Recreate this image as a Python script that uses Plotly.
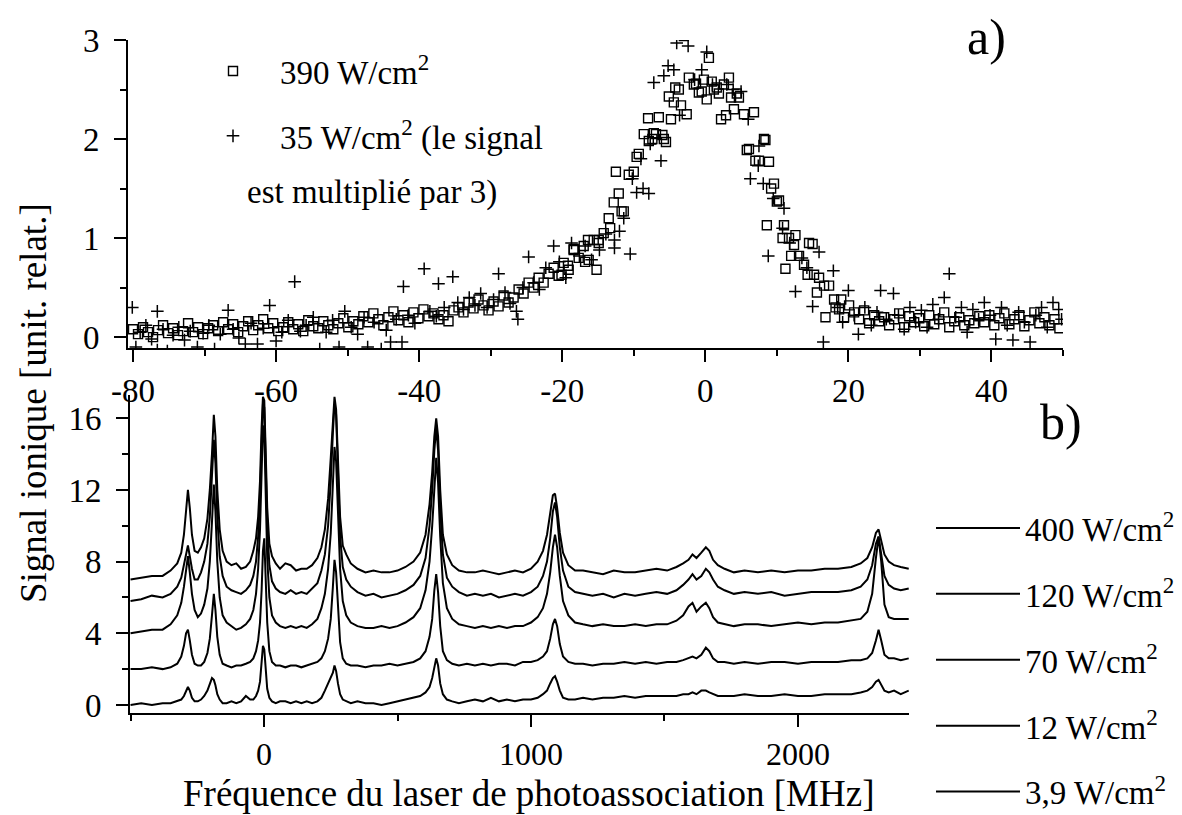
import plotly.graph_objects as go

# ---------------- Panel a) : scatter data ----------------
sq_x = [-80.0,-79.3,-78.6,-77.9,-77.2,-76.5,-75.8,-75.1,-74.4,-73.7,
        -73.0,-72.3,-71.6,-70.9,-70.2,-69.5,-68.8,-68.1,-67.4,-66.7,
        -66.0,-65.3,-64.6,-63.9,-63.2,-62.5,-61.8,-61.1,-60.4,-59.7,
        -59.0,-58.3,-57.6,-56.9,-56.2,-55.5,-54.8,-54.1,-53.4,-52.7,
        -52.0,-51.3,-50.6,-49.9,-49.2,-48.5,-47.8,-47.1,-46.4,-45.7,
        -45.0,-44.3,-43.6,-42.9,-42.2,-41.5,-40.8,-40.1,-39.4,-38.7,
        -38.0,-37.3,-36.6,-35.9,-35.2,-34.5,-33.8,-33.1,-32.4,-31.7,
        -31.0,-30.3,-29.6,-28.9,-28.2,-27.5,-26.8,-26.1,-25.4,-24.7,
        -24.0,-23.3,-22.6,-21.9,-21.2,-20.5,-19.8,-19.1,-18.4,-17.7,
        -17.0,-16.3,-15.6,-14.9,-14.2,-13.5,-12.8,-12.1,-11.4,-10.7,
        -10.0,-9.3,-8.6,-7.9,-7.2,-6.5,-5.8,-5.1,-4.4,-3.7,
        -3.0,-2.3,-1.6,-0.9,-0.2,0.5,1.2,1.9,2.6,3.3,
        4.0,4.7,5.4,6.1,6.8,7.5,8.2,8.9,9.6,10.3,
        11.0,11.7,12.4,13.1,13.8,14.5,15.2,15.9,16.6,17.3,
        18.0,18.7,19.4,20.1,20.8,21.5,22.2,22.9,23.6,24.3,
        25.0,25.7,26.4,27.1,27.8,28.5,29.2,29.9,30.6,31.3,
        32.0,32.7,33.4,34.1,34.8,35.5,36.2,36.9,37.6,38.3,
        39.0,39.7,40.4,41.1,41.8,42.5,43.2,43.9,44.6,45.3,
        46.0,46.7,47.4,48.1,48.8,49.5]
sq_y = [0.08,0.03,0.10,0.05,0.00,0.07,0.12,0.04,0.09,0.02,
        0.06,0.14,0.05,0.10,0.03,0.09,0.12,0.06,0.15,0.08,
        0.13,0.05,0.11,0.16,0.07,0.12,0.18,0.09,0.14,0.06,
        0.10,0.15,0.08,0.13,0.06,0.17,0.11,0.09,0.16,0.12,
        0.08,0.14,0.19,0.10,0.16,0.13,0.21,0.15,0.24,0.18,
        0.12,0.20,0.26,0.17,0.22,0.15,0.25,0.19,0.28,0.21,
        0.24,0.18,0.22,0.16,0.27,0.30,0.25,0.35,0.29,0.38,
        0.32,0.27,0.36,0.31,0.42,0.35,0.40,0.48,0.44,0.55,
        0.50,0.60,0.55,0.64,0.70,0.62,0.75,0.68,0.88,0.80,
        0.92,0.78,0.98,0.95,1.05,1.20,1.36,1.45,1.27,1.64,
        1.67,1.85,2.05,1.98,2.06,2.22,2.00,2.43,2.37,2.50,
        3.04,2.62,2.55,2.47,2.60,2.82,2.50,2.46,2.55,2.62,
        2.30,2.42,2.25,1.90,2.27,1.78,2.00,1.77,1.55,1.38,
        1.13,1.00,0.93,0.82,0.73,0.95,0.63,0.60,0.52,0.52,
        0.38,0.28,0.20,0.32,0.25,0.18,0.27,0.14,0.22,0.16,
        0.20,0.12,0.18,0.24,0.10,0.21,0.15,0.19,0.11,0.22,
        0.13,0.18,0.25,0.10,0.16,0.20,0.12,0.17,0.14,0.21,
        0.15,0.22,0.12,0.19,0.24,0.13,0.18,0.22,0.11,0.17,
        0.25,0.14,0.20,0.12,0.18,0.09]
sq_extra_x = [-12.5,-11.7,-13.3,-9.6,-8.0,-7.4,-6.9,-6.0,-5.5,-4.8,
              -4.2,-3.4,-2.6,-1.3,-0.5,0.2,0.9,1.6,2.2,2.9,
              3.6,4.4,5.8,7.0,8.4,9.2,10.0,8.6,10.8,12.6,
              12.0,11.2,15.0,14.3,15.6,16.8,19.0,18.2,-16.4,-18.4,
              -19.2,-20.1,-16.8,-15.2,-14.9]
sq_extra_y = [1.67,1.27,1.10,1.82,2.21,2.00,2.05,2.04,1.97,2.20,
              2.52,2.34,2.25,2.56,2.48,2.40,2.58,2.52,2.20,2.24,
              2.42,2.46,1.89,1.78,1.99,1.50,1.37,1.13,1.00,1.03,
              0.82,0.69,0.94,0.63,0.45,0.20,0.38,0.30,0.98,0.89,
              0.72,0.63,0.76,0.68,0.98]

pl_x = [-80.1,-79.6,-79.0,-78.2,-77.4,-76.6,-76.6,-75.8,-75.2,-74.4,
        -73.6,-72.8,-72.0,-71.0,-70.2,-69.4,-68.6,-67.8,-66.7,-66.0,
        -65.2,-64.3,-63.5,-62.6,-61.8,-60.9,-60.0,-59.2,-58.3,-57.4,
        -56.6,-55.8,-54.8,-53.9,-53.0,-52.1,-51.2,-50.4,-49.5,-48.6,
        -47.7,-47.2,-46.3,-45.3,-44.6,-44.0,-43.2,-42.4,-42.2,-41.5,
        -40.6,-39.3,-38.5,-37.6,-37.3,-36.5,-35.3,-34.6,-33.8,-33.0,
        -32.2,-31.4,-30.5,-29.6,-28.9,-28.0,-27.3,-26.4,-26.2,-25.5,
        -24.7,-24.0,-23.2,-22.3,-21.2,-20.4,-19.5,-18.7,-17.6,-16.8,
        -15.9,-14.8,-13.9,-12.7,-12.0,-12.7,-11.4,-10.5,-10.2,-9.6,
        -8.7,-7.9,-9.0,-7.7,-6.2,-7.2,-5.8,-5.2,-4.4,-4.0,
        -3.6,-2.4,-1.5,-0.5,0.2,1.0,2.5,3.0,3.9,5.0,
        6.0,7.5,7.4,6.3,8.1,8.8,9.5,10.8,11.0,11.8,
        12.6,13.5,14.2,15.0,15.9,16.5,17.9,18.5,19.2,20.0,
        20.8,21.4,22.3,23.2,24.0,24.5,25.3,26.3,27.0,27.8,
        28.6,29.4,30.2,31.0,31.8,32.6,33.4,34.1,35.0,35.8,
        36.6,37.4,38.2,39.0,39.8,40.6,41.4,42.2,43.0,43.8,
        44.6,45.4,46.2,47.0,47.8,48.6,49.4,49.8]
pl_y = [0.30,-0.10,0.05,0.12,-0.02,0.26,-0.13,0.08,-0.14,0.02,
        0.10,-0.03,0.06,-0.10,0.04,0.12,-0.12,0.03,0.27,0.08,
        -0.01,-0.07,0.14,-0.07,0.09,0.32,-0.04,0.05,0.17,0.56,
        0.06,0.12,0.20,-0.12,0.05,0.17,-0.10,0.26,0.10,0.03,
        0.20,-0.10,0.15,-0.12,0.07,-0.05,0.18,-0.05,0.51,0.22,
        0.14,0.69,0.26,0.21,0.54,0.30,0.61,0.35,0.28,0.40,
        0.32,0.44,0.30,0.38,0.64,0.45,0.34,0.26,0.18,0.50,
        0.81,0.55,0.48,0.70,0.92,0.76,0.60,0.95,0.82,0.92,
        0.78,0.88,1.04,0.98,1.07,0.90,1.20,0.84,1.60,1.46,
        1.50,1.45,1.80,1.95,1.78,2.57,2.64,2.74,2.70,2.97,
        2.24,2.94,2.60,2.70,2.88,2.55,3.08,2.55,2.50,2.48,
        2.20,1.93,1.73,1.60,1.55,0.82,1.40,1.10,1.30,0.95,
        0.46,0.80,0.70,0.31,0.86,-0.05,0.67,0.30,0.15,0.47,
        0.22,0.03,0.30,0.12,0.25,0.47,0.18,0.44,0.22,0.08,
        0.30,0.15,0.27,0.10,0.33,0.18,0.40,0.64,0.20,0.30,
        0.05,0.28,0.18,0.35,0.22,-0.02,0.30,0.12,-0.03,0.25,
        0.15,-0.05,0.22,0.30,0.10,0.35,0.28,0.18]

# ---------------- Panel b) : spectra ----------------
freq_mhz = [-500,-460,-420,-380,-350,-325,-310,-300,-292,-285,
            -278,-270,-260,-248,-236,-224,-212,-203,-195,-188,
            -182,-175,-166,-155,-140,-122,-104,-86,-68,-52,
            -40,-30,-22,-15,-9,-4,1,6,12,20,
            30,44,60,80,100,120,140,160,180,200,
            215,228,240,250,258,264,270,277,285,295,
            308,325,350,380,410,440,470,500,530,560,
            585,605,620,630,638,645,652,660,670,685,
            705,730,760,790,820,850,880,910,940,970,
            1000,1025,1045,1060,1072,1082,1090,1098,1108,1120,
            1140,1165,1195,1230,1270,1310,1350,1390,1430,1470,
            1510,1545,1570,1590,1605,1620,1638,1655,1668,1682,
            1700,1725,1760,1800,1850,1900,1950,2000,2050,2100,
            2150,2200,2235,2260,2278,2292,2302,2312,2324,2340,
            2360,2385,2415]

sig_400 = [7.0,7.1,7.2,7.2,7.5,7.9,8.5,9.5,10.8,12.0,
           11.0,9.5,8.6,8.5,8.8,9.3,10.4,12.0,14.0,16.2,
           15.0,12.0,9.8,8.6,8.0,7.8,7.9,7.6,7.7,8.0,
           8.6,9.3,10.5,12.5,15.5,17.2,17.0,14.5,11.0,9.0,
           8.3,7.9,7.6,7.9,7.8,7.5,7.6,7.6,7.8,8.2,
           8.8,9.8,11.5,13.8,16.0,17.2,16.5,13.5,10.5,8.9,
           8.4,7.9,7.6,7.4,7.5,7.4,7.4,7.5,7.7,8.0,
           8.5,9.5,11.2,13.0,15.0,16.0,15.0,12.0,9.5,8.4,
           7.8,7.5,7.4,7.4,7.5,7.4,7.3,7.4,7.5,7.4,
           7.6,8.0,8.6,9.5,10.8,11.7,11.8,11.0,9.6,8.5,
           7.8,7.5,7.5,7.4,7.3,7.5,7.4,7.4,7.5,7.6,
           7.5,7.7,7.9,8.1,8.4,8.2,8.5,8.8,8.6,8.1,
           7.8,7.6,7.4,7.5,7.4,7.5,7.4,7.5,7.5,7.6,
           7.6,7.7,7.9,8.2,8.8,9.6,9.8,9.2,8.4,8.0,
           7.8,7.7,7.6]
sig_120 = [5.8,5.9,6.1,6.0,6.2,6.6,7.1,7.8,8.5,8.9,
           8.3,7.6,7.0,7.0,7.4,8.0,9.0,10.5,12.8,14.8,
           13.5,10.5,8.3,7.2,6.6,6.4,6.3,6.2,6.4,6.7,
           7.2,8.0,9.4,11.5,14.5,16.8,16.6,13.8,10.0,7.8,
           6.9,6.5,6.3,6.2,6.4,6.2,6.3,6.2,6.5,6.8,
           7.5,8.4,10.0,12.5,15.2,16.8,16.2,12.8,9.4,7.7,
           7.0,6.6,6.3,6.1,6.2,6.0,6.1,6.2,6.4,6.7,
           7.2,8.2,10.0,12.0,14.2,15.5,14.2,11.0,8.4,7.1,
           6.6,6.3,6.1,6.2,6.1,6.2,6.0,6.1,6.2,6.1,
           6.3,6.6,7.2,8.0,9.3,10.8,11.3,10.5,8.8,7.5,
           6.6,6.3,6.2,6.1,6.2,6.0,6.2,6.1,6.2,6.3,
           6.2,6.4,6.7,7.0,7.3,7.0,7.2,7.6,7.4,7.0,
           6.6,6.4,6.2,6.3,6.2,6.3,6.1,6.2,6.3,6.3,
           6.3,6.4,6.6,7.0,7.8,9.0,9.4,8.4,7.2,6.7,
           6.5,6.4,6.5]
sig_70 = [4.0,4.1,4.2,4.2,4.5,5.0,5.7,6.6,7.6,8.3,
          7.4,6.2,5.3,4.9,5.1,5.6,6.5,8.0,10.2,12.3,
          10.8,8.0,6.0,5.0,4.6,4.4,4.2,4.3,4.5,4.8,
          5.3,6.2,7.6,9.8,12.8,15.6,15.2,11.8,8.2,6.0,
          5.0,4.6,4.4,4.3,4.4,4.3,4.4,4.3,4.5,4.8,
          5.4,6.2,7.6,9.6,12.2,14.4,13.6,10.4,7.6,5.8,
          5.0,4.6,4.4,4.3,4.3,4.4,4.3,4.4,4.6,4.9,
          5.4,6.4,8.0,10.0,12.4,13.8,12.4,9.4,6.8,5.4,
          4.8,4.5,4.4,4.3,4.4,4.3,4.4,4.3,4.4,4.4,
          4.6,4.9,5.4,6.2,7.4,8.8,9.5,8.8,7.2,5.8,
          5.0,4.6,4.5,4.4,4.5,4.4,4.4,4.5,4.4,4.5,
          4.5,4.7,5.0,5.5,5.7,5.2,5.5,5.7,5.4,4.9,
          4.6,4.5,4.4,4.5,4.5,4.4,4.5,4.6,4.5,4.6,
          4.6,4.7,4.8,5.2,6.2,8.2,9.4,8.0,5.6,4.9,
          4.8,4.8,4.8]
sig_12 = [2.0,2.0,2.1,2.0,2.1,2.3,2.7,3.3,4.0,4.2,
          3.6,2.8,2.3,2.2,2.2,2.4,2.9,3.7,5.0,6.2,
          5.3,3.8,2.8,2.3,2.2,2.1,2.2,2.2,2.3,2.4,
          2.6,3.0,3.6,4.6,6.4,8.6,9.3,7.4,4.6,3.0,
          2.4,2.2,2.2,2.1,2.2,2.2,2.1,2.2,2.3,2.4,
          2.6,3.0,3.7,4.8,6.6,8.1,7.4,5.2,3.5,2.6,
          2.3,2.2,2.2,2.1,2.2,2.2,2.3,2.2,2.3,2.4,
          2.6,3.0,3.8,4.8,6.4,7.3,6.3,4.4,3.0,2.5,
          2.3,2.2,2.3,2.2,2.3,2.2,2.3,2.3,2.2,2.4,
          2.4,2.5,2.7,3.0,3.7,4.5,4.8,4.4,3.4,2.7,
          2.4,2.3,2.3,2.2,2.3,2.3,2.4,2.3,2.4,2.3,
          2.4,2.4,2.5,2.6,2.7,2.6,2.8,3.2,3.0,2.6,
          2.4,2.4,2.3,2.4,2.3,2.4,2.4,2.3,2.4,2.4,
          2.4,2.5,2.5,2.6,2.9,3.6,4.2,3.6,2.8,2.6,
          2.6,2.5,2.6]
sig_3_9 = [0.0,0.1,0.0,0.1,0.1,0.2,0.3,0.5,0.8,1.0,
           0.8,0.4,0.2,0.2,0.3,0.5,0.8,1.2,1.5,1.4,
           1.1,0.6,0.3,0.1,0.1,0.2,0.1,0.2,0.5,0.3,
           0.3,0.5,0.8,1.3,2.2,3.3,3.1,2.0,0.9,0.4,
           0.2,0.1,0.2,0.2,0.1,0.2,0.1,0.2,0.1,0.2,
           0.4,0.8,1.2,1.5,1.8,2.2,1.9,1.2,0.6,0.3,
           0.2,0.1,0.2,0.1,0.1,0.0,0.1,0.2,0.3,0.4,
           0.5,0.7,1.0,1.5,2.2,2.6,2.2,1.2,0.6,0.3,
           0.2,0.1,0.2,0.3,0.2,0.4,0.2,0.3,0.2,0.3,
           0.3,0.4,0.6,0.8,1.2,1.5,1.6,1.3,0.8,0.4,
           0.3,0.3,0.4,0.3,0.4,0.4,0.5,0.4,0.5,0.5,
           0.5,0.5,0.6,0.6,0.7,0.6,0.8,0.8,0.7,0.6,
           0.5,0.5,0.5,0.6,0.5,0.5,0.6,0.5,0.5,0.6,
           0.6,0.6,0.7,0.8,1.0,1.3,1.4,1.1,0.8,0.7,
           0.8,0.6,0.8]

spectra = [sig_400, sig_120, sig_70, sig_12, sig_3_9]
spectra_labels = ["400 W/cm<sup>2</sup>", "120 W/cm<sup>2</sup>", "70 W/cm<sup>2</sup>",
                  "12 W/cm<sup>2</sup>", "3,9 W/cm<sup>2</sup>"]
top_labels = ["390 W/cm<sup>2</sup>", "35 W/cm<sup>2</sup> (le signal"]

top_xticks = [-80, -60, -40, -20, 0, 20, 40]
top_xtick_text = ["-80", "-60", "-40", "-20", "0", "20", "40"]
top_yticks = [0, 1, 2, 3]
bot_xticks = [0, 1000, 2000]
bot_yticks = [0, 4, 8, 12, 16]

# The page body has an 8 px margin: the figure is drawn 8 px in from the window corner.
OFF = 8
W, H = 1182 - OFF, 815 - OFF
FONT = "'Liberation Serif', 'Times New Roman', Times, serif"

def px_x(p):
    return (p - OFF) / W

def px_y(p):
    return 1 - (p - OFF) / H

fig = go.Figure()

fig.add_trace(go.Scatter(
    x=sq_x + sq_extra_x, y=sq_y + sq_extra_y, mode="markers", name=top_labels[0],
    marker=dict(symbol="square-open", size=9, color="black", line=dict(width=1.4, color="black")),
    xaxis="x", yaxis="y", legend="legend", legendgroup="a1"))
fig.add_trace(go.Scatter(
    x=pl_x, y=pl_y, mode="markers", name=top_labels[1],
    marker=dict(symbol="cross-thin-open", size=9, color="black", line=dict(width=1.5, color="black")),
    xaxis="x", yaxis="y", legend="legend", legendgroup="a2"))

for i, (sig, lab) in enumerate(zip(spectra, spectra_labels)):
    fig.add_trace(go.Scatter(
        x=freq_mhz, y=sig, mode="lines", name=lab,
        line=dict(color="black", width=2),
        xaxis="x2", yaxis="y2", legend="legend2", legendgroup="b%d" % i))

tickfont = dict(family=FONT, size=33, color="black")
common = dict(showline=True, linecolor="black", linewidth=2, ticks="outside",
              ticklen=12, tickwidth=2, tickcolor="black", showgrid=False,
              zeroline=False, automargin=False)
minor_common = dict(ticks="outside", ticklen=6, tickwidth=2, tickcolor="black", showgrid=False)

fig.update_layout(
    template="none",
    width=W, height=H,
    margin=dict(l=0, r=0, t=0, b=0, pad=0, autoexpand=False),
    paper_bgcolor="white", plot_bgcolor="white",
    font=dict(family=FONT, size=33, color="black"),
    xaxis=dict(domain=[px_x(128), px_x(1063)], range=[-80.7, 50], anchor="y",
               tickvals=top_xticks, ticktext=top_xtick_text, tickfont=tickfont,
               minor=dict(dtick=10, tick0=0, **minor_common),
               ticklabelstandoff=0, **common),
    yaxis=dict(domain=[px_y(348), px_y(40)], range=[-0.11, 3.0], anchor="x",
               tickvals=top_yticks, tickfont=tickfont,
               minor=dict(dtick=0.5, tick0=0, **minor_common),
               ticklabelstandoff=8, **common),
    xaxis2=dict(domain=[px_x(130), px_x(909)], range=[-502, 2416], anchor="y2",
                tickvals=bot_xticks, tickfont=dict(family=FONT, size=32, color="black"),
                minor=dict(dtick=500, tick0=0, **minor_common),
                ticklabelstandoff=0,
                **common),
    yaxis2=dict(domain=[px_y(713), px_y(395)], range=[-0.45, 17.3], anchor="x2",
                tickvals=bot_yticks, tickfont=tickfont,
                minor=dict(dtick=2, tick0=0, **minor_common),
                ticklabelstandoff=8, **common),
    showlegend=True,
    legend=dict(x=px_x(186), y=px_y(43), xanchor="left", yanchor="top",
                bgcolor="rgba(0,0,0,0)", borderwidth=0, itemwidth=84,
                tracegroupgap=19, font=dict(family=FONT, size=33, color="black"),
                itemclick=False, itemdoubleclick=False),
    legend2=dict(x=px_x(931), y=px_y(500), xanchor="left", yanchor="top",
                 bgcolor="rgba(0,0,0,0)", borderwidth=0, itemwidth=84,
                 tracegroupgap=20, font=dict(family=FONT, size=33, color="black"),
                 itemclick=False, itemdoubleclick=False),
)

fig.add_annotation(text="est multiplié par 3)", x=px_x(245), y=px_y(192), xref="paper", yref="paper",
                   xanchor="left", yanchor="middle", showarrow=False,
                   font=dict(family=FONT, size=33, color="black"))
fig.add_annotation(text="Signal ionique [unit. relat.]", x=px_x(33), y=px_y(403), xref="paper", yref="paper",
                   xanchor="center", yanchor="middle", textangle=-90, showarrow=False,
                   font=dict(family=FONT, size=37, color="black"))
fig.add_annotation(text="Fréquence du laser de photoassociation [MHz]", x=px_x(528), y=px_y(793),
                   xref="paper", yref="paper", xanchor="center", yanchor="middle", showarrow=False,
                   font=dict(family=FONT, size=37, color="black"))
fig.add_annotation(text="a)", x=px_x(986), y=px_y(37), xref="paper", yref="paper",
                   xanchor="center", yanchor="middle", showarrow=False,
                   font=dict(family=FONT, size=50, color="black"))
fig.add_annotation(text="b)", x=px_x(1061), y=px_y(422), xref="paper", yref="paper",
                   xanchor="center", yanchor="middle", showarrow=False,
                   font=dict(family=FONT, size=50, color="black"))

fig.write_html("out.html")
